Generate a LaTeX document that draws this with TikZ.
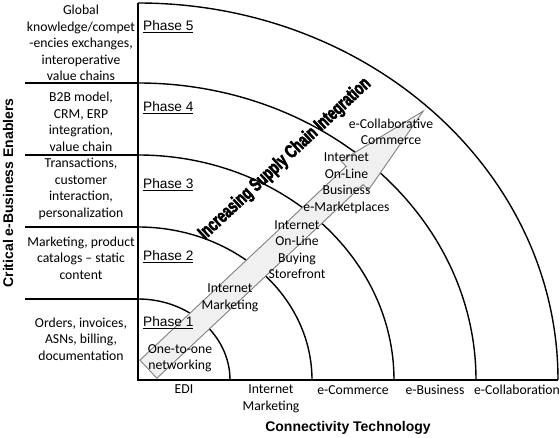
\documentclass[tikz,border=0pt]{standalone}
\usepackage{fontspec}
\setmainfont{Carlito}
\newfontfamily\arialfont{Liberation Sans}
\newfontfamily\heavyfont{Liberation Sans}[FakeStretch=0.7,FakeBold=3]
\usetikzlibrary{positioning, calc}

\tikzset{
  enabler/.style={align=center, inner sep=0pt, font=\fontsize{13.7}{16.5}\selectfont},
  phase/.style={anchor=west, inner sep=0pt, font=\arialfont\fontsize{13.7}{16}\selectfont},
  techlabel/.style={anchor=north, align=center, inner sep=0pt, font=\fontsize{13.7}{16.5}\selectfont},
  stage/.style={align=center, inner sep=0pt, font=\fontsize{13.7}{16.5}\selectfont},
  axistitle/.style={inner sep=0pt, font=\arialfont\bfseries\fontsize{14}{16}\selectfont},
  trendtext/.style={inner sep=0pt, font=\heavyfont\bfseries\fontsize{19}{19}\selectfont},
  ring/.style={line width=1.4pt},
  divider/.style={line width=1.2pt},
  axisline/.style={line width=2.4pt},
  bigarrow/.style={draw=black!50, fill=black!6, line width=0.9pt, line join=miter},
}

\begin{document}
\begin{tikzpicture}[x=1pt,y=1pt]
  \useasboundingbox (-138,-58) rectangle (422,380);

  % Rings
  \foreach \rx/\ry in {92/81,174/153,256/225,338/297,420/377}
  \draw[ring] (\rx pt,0) arc[start angle=0, end angle=90, x radius=\rx pt, y radius=\ry pt];

  % Phase dividers
  \foreach \y in {81,153,225,297}
  \draw[divider] (-113,\y) -- (0,\y);

  % Trend arrow
  \begin{scope}[shift={(10.4,10.8)}, rotate=43.2]
    \draw[bigarrow] (0,-12.4) -- (283,-12.4) -- (283,-20) -- (377,0)
      -- (283,20) -- (283,12.4) -- (0,12.4) -- cycle;
  \end{scope}

  % Axes
  \coordinate (origin) at (0,0);
  \coordinate (ytop) at (0,377);
  \coordinate (xend) at (420,0);
  \draw[axisline] (ytop) -- (origin) -- (xend);

  % Enablers
  \node[enabler] (enabler1) at (-57,41) {Orders, invoices,\\ASNs, billing,\\documentation};
  \node[enabler] (enabler2) at (-57,122) {Marketing, product\\catalogs -- static\\content};
  \node[enabler] (enabler3) at (-57,191) {Transactions,\\customer\\interaction,\\personalization};
  \node[enabler] (enabler4) at (-57,258) {B2B model,\\CRM, ERP\\integration,\\value chain};
  \node[enabler] (enabler5) at (-57,337) {Global\\knowledge/compet\\-encies exchanges,\\interoperative\\value chains};

  % Phases
  \foreach \p/\y in {1/57,2/123,3/195,4/272,5/353}
  \node[phase] (phase\p) at (5,\y) {\underline{Phase \p}};

  % Technologies
  \node[techlabel] (tech1) at (46,-5) {EDI};
  \node[techlabel] (tech2) at (133,-5) {Internet\\Marketing};
  \node[techlabel] (tech3) at (215,-5) {e-Commerce};
  \node[techlabel] (tech4) at (297,-5) {e-Business};
  \node[techlabel] (tech5) at (379,-5) {e-Collaboration};

  % Stages along the arrow
  \node[stage] (stage1) at (42,22) {One-to-one\\networking};
  \node[stage] (stage2) at (92,82) {Internet\\Marketing};
  \node[stage] (stage3) at (159,130.5) {Internet\\On-Line\\Buying\\Storefront};
  \node[stage] (stage4) at (208.5,196.7) {Internet\\On-Line\\Business\\e-Marketplaces};
  \node[stage] (stage5) at (253,248.3) {e-Collaborative\\Commerce};

  \node[trendtext, rotate=43] (trendlabel) at (147,221) {Increasing Supply Chain Integration};

  % Axis titles
  \node[axistitle] (xtitle) at (210,-48) {Connectivity Technology};
  \node[axistitle, rotate=90] (ytitle) at (-130,187) {Critical e-Business Enablers};
\end{tikzpicture}
\end{document}
